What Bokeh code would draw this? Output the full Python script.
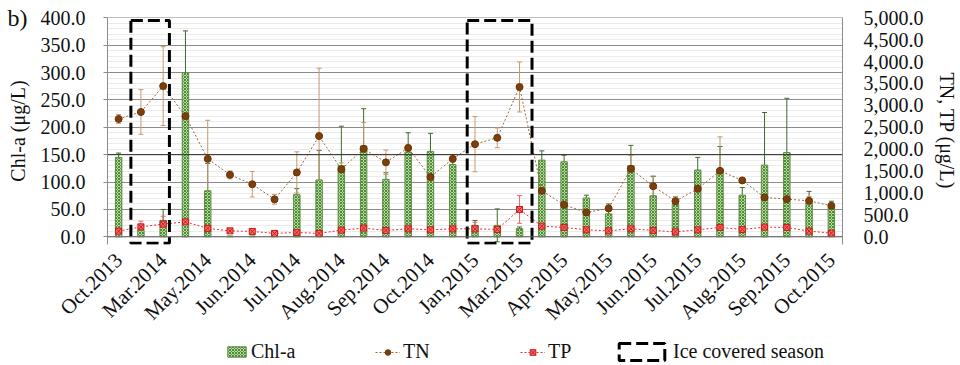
import math
from bokeh.plotting import figure
from bokeh.layouts import column
from bokeh.models import (Range1d, LinearAxis, FixedTicker, NumeralTickFormatter, Whisker,
                          TeeHead, ColumnDataSource, Legend, LegendItem, Span, Title)
from bokeh.embed import file_html
from bokeh.resources import INLINE

# ---------------- data ----------------
tick_labels = ["Oct.2013", "Mar.2014", "May.2014", "Jun.2014", "Jul.2014", "Aug.2014",
               "Sep.2014", "Oct.2014", "Jan,2015", "Mar.2015", "Apr.2015", "May.2015",
               "Jun.2015", "Jul.2015", "Aug.2015", "Sep.2015", "Oct.2015"]
n_samples = 33

chl = [145, 12, 30, 300, 84, 1, 1, 1, 77, 104, 130, 166, 105, 155, 156, 132, 21,
       21, 15, 140, 137, 71, 42, 130, 75, 60, 122, 124, 76, 131, 154, 62, 54]
chl_err = [8, 8, 20, 76, 50, 0, 0, 0, 11, 54, 72, 68, 12, 35, 33, 5, 9,
           30, 3, 17, 12, 5, 18, 37, 35, 13, 23, 41, 14, 96, 99, 21, 11]
tn = [2690, 2850, 3440, 2755, 1780, 1415, 1200, 855, 1470, 2300, 1540, 2010, 1700, 2030,
      1365, 1780, 2115, 2260, 3420, 1050, 730, 557, 648, 1552, 1157, 815, 1096, 1507,
      1288, 900, 861, 822, 708]
tn_err = [100, 510, 900, 550, 880, 90, 290, 110, 470, 1550, 150, 600, 280, 60, 280, 60,
          630, 225, 570, 120, 60, 40, 60, 310, 235, 100, 80, 776, 30, 150, 200, 100, 60]
tp = [130, 228, 290, 342, 192, 137, 123, 78, 100, 78, 153, 199, 146, 183, 160, 183, 183,
      169, 625, 244, 215, 160, 137, 183, 146, 114, 160, 215, 169, 221, 215, 130, 84]
tp_err = [20, 130, 180, 40, 60, 20, 20, 20, 20, 20, 20, 20, 20, 20, 20, 20, 150,
          20, 316, 20, 20, 20, 20, 20, 20, 20, 20, 20, 20, 20, 20, 20, 20]

ice_left = [0.55, 15.65]
ice_right = [2.28, 18.56]
ice_top = [395, 395]
ice_bottom = [-11.5, -11.5]

left_ticks = list(range(0, 401, 50))
left_minor = list(range(0, 401, 10))
right_ticks = list(range(0, 5001, 500))

# ---------------- styles ----------------
FONT = "Liberation Serif"
BAR = dict(fill_color="#b8d9a0", line_color="#5b8f43", line_width=1,
           hatch_pattern="x", hatch_color="#4f8a36", hatch_scale=3, hatch_weight=1)
TN_LINE = dict(line_color="#9a6a3a", line_dash="2 2", line_width=1)
TN_PT = dict(marker="circle", size=7, fill_color="#7b3f0c", line_color="#6a3408")
TP_LINE = dict(line_color="#e53030", line_dash="2 2", line_width=1)
TP_PT = dict(marker="square_x", size=6, fill_color="#f07070", line_color="#d01818")
ICE = dict(fill_color=None, line_color="black", line_width=3, line_dash="12 5")

scale = 5000 / 400.0
y0, y1 = -14, 400.5

x = list(range(n_samples))
src = ColumnDataSource(dict(
    x=x, chl=chl,
    chl_lo=[c - e for c, e in zip(chl, chl_err)], chl_hi=[c + e for c, e in zip(chl, chl_err)],
    tn=tn, tn_lo=[a - e for a, e in zip(tn, tn_err)], tn_hi=[a + e for a, e in zip(tn, tn_err)],
    tp=tp, tp_lo=[max(a - e, 0) for a, e in zip(tp, tp_err)], tp_hi=[a + e for a, e in zip(tp, tp_err)],
))

p = figure(width=960, height=338, output_backend="svg", toolbar_location=None,
           x_range=Range1d(-0.5, n_samples - 0.5), y_range=Range1d(y0, y1),
           min_border_left=107, min_border_right=108, min_border_top=17, min_border_bottom=94)
p.extra_y_ranges = {"r": Range1d(y0 * scale, y1 * scale)}
p.outline_line_color = None
p.xgrid.visible = False

# panel tag "b)"
p.add_layout(Title(text="b)", align="left", offset=-100, standoff=-27, text_font=FONT,
                   text_font_size="24px", text_font_style="normal", text_color="#111111"),
             "above")

# left axis
p.yaxis.ticker = FixedTicker(ticks=left_ticks, minor_ticks=left_minor)
p.yaxis.formatter = NumeralTickFormatter(format="0.0")
p.yaxis.axis_label = "Chl-a (μg/L)"
p.yaxis.axis_line_color = "#8c8c8c"
p.yaxis.major_tick_line_color = "#8c8c8c"
p.yaxis.major_tick_out = 4
p.yaxis.major_tick_in = 0
p.yaxis.minor_tick_line_color = None
p.yaxis.major_label_standoff = 18
p.yaxis.axis_label_standoff = 9
p.ygrid.grid_line_color = "#8c8c8c"
p.ygrid.minor_grid_line_color = "#ebebeb"

# bottom axis
p.xaxis.ticker = FixedTicker(ticks=list(range(0, n_samples, 2)))
p.xaxis.major_label_overrides = {i: lab for i, lab in zip(range(0, n_samples, 2), tick_labels)}
p.xaxis.major_label_orientation = math.pi / 4
p.xaxis.axis_line_color = None
p.xaxis.major_tick_line_color = None
p.xaxis.minor_tick_line_color = None
p.xaxis.major_label_standoff = 6

# right axis
rax = LinearAxis(y_range_name="r", ticker=FixedTicker(ticks=right_ticks),
                 formatter=NumeralTickFormatter(format="0,0.0"), axis_label="TN, TP (μg/L)")
rax.axis_line_color = "#8c8c8c"
rax.major_tick_line_color = None
rax.minor_tick_line_color = None
rax.major_label_standoff = 15
rax.axis_label_standoff = 9
p.add_layout(rax, "right")

for ax in [p.yaxis[0], p.xaxis[0], rax]:
    ax.major_label_text_font = FONT
    ax.major_label_text_font_size = "19px"
    ax.major_label_text_color = "#111111"
    ax.axis_label_text_font = FONT
    ax.axis_label_text_font_size = "20px"
    ax.axis_label_text_font_style = "normal"
    ax.axis_label_text_color = "#111111"
p.xaxis.major_label_text_font_size = "21px"
p.yaxis.major_label_text_font_size = "20px"

p.add_layout(Span(location=0, dimension="width", line_color="#707070", line_width=1))
p.add_layout(Span(location=150, dimension="width", line_color="#303030", line_width=1))

# bars
bars = p.vbar(x="x", top="chl", bottom=0, width=0.29, source=src, **BAR)
p.add_layout(Whisker(source=src, base="x", upper="chl_hi", lower="chl_lo", dimension="height",
                     line_color="#3f6a30", line_width=1,
                     upper_head=TeeHead(size=5, line_color="#3f6a30"),
                     lower_head=TeeHead(size=5, line_color="#3f6a30")))

# TN
p.add_layout(Whisker(source=src, base="x", upper="tn_hi", lower="tn_lo", dimension="height",
                     y_range_name="r", line_color="#c29a70", line_width=1,
                     upper_head=TeeHead(size=5, line_color="#c29a70"),
                     lower_head=TeeHead(size=5, line_color="#c29a70")))
p.line("x", "tn", source=src, y_range_name="r", **TN_LINE)
p.scatter("x", "tn", source=src, y_range_name="r", **TN_PT)

# TP
p.add_layout(Whisker(source=src, base="x", upper="tp_hi", lower="tp_lo", dimension="height",
                     y_range_name="r", line_color="#e06a6a", line_width=1,
                     upper_head=TeeHead(size=5, line_color="#e06a6a"),
                     lower_head=TeeHead(size=5, line_color="#e06a6a")))
p.line("x", "tp", source=src, y_range_name="r", **TP_LINE)
p.scatter("x", "tp", source=src, y_range_name="r", **TP_PT)

# ice covered season boxes
p.quad(left=ice_left, right=ice_right, top=ice_top, bottom=ice_bottom, **ICE)

# ---------------- legend strip ----------------
lg = figure(width=960, height=27, output_backend="svg", toolbar_location=None,
            x_range=Range1d(0, 960), y_range=Range1d(0, 27),
            x_axis_location=None, y_axis_location=None, min_border=0)
lg.outline_line_color = None
lg.grid.visible = False
off = ColumnDataSource(dict(x=[-500], y=[-500], top=[-500], l=[-500], r=[-499], t=[-500], b=[-501]))
r_bar = lg.vbar(x="x", top="top", width=1, source=off, **BAR)
r_tnl = lg.line("x", "y", source=off, **TN_LINE)
r_tnp = lg.scatter("x", "y", source=off, **TN_PT)
r_tpl = lg.line("x", "y", source=off, **TP_LINE)
r_tpp = lg.scatter("x", "y", source=off, **TP_PT)
r_ice = lg.quad(left="l", right="r", top="t", bottom="b", source=off, **ICE)


def mk_legend(label, rends, loc, gw, gh):
    leg = Legend(items=[LegendItem(label=label, renderers=rends)], location=loc,
                 orientation="horizontal", glyph_width=gw, glyph_height=gh,
                 padding=0, margin=0, spacing=0, border_line_color=None,
                 background_fill_alpha=0, label_text_font=FONT, label_text_font_size="20px",
                 label_text_color="#111111", label_standoff=3, label_height=22)
    lg.add_layout(leg)


# legend frame is aligned with the main plot frame (left edge at 107 px)
mk_legend("Chl-a", [r_bar], (118, 2), 23, 13)
mk_legend("TN", [r_tnl, r_tnp], (268, 2), 25, 14)
mk_legend("TP", [r_tpl, r_tpp], (413, 2), 25, 14)
mk_legend("Ice covered season", [r_ice], (506, 2), 57, 21)

open("out.html", "w").write(file_html(column(p, lg), INLINE))
